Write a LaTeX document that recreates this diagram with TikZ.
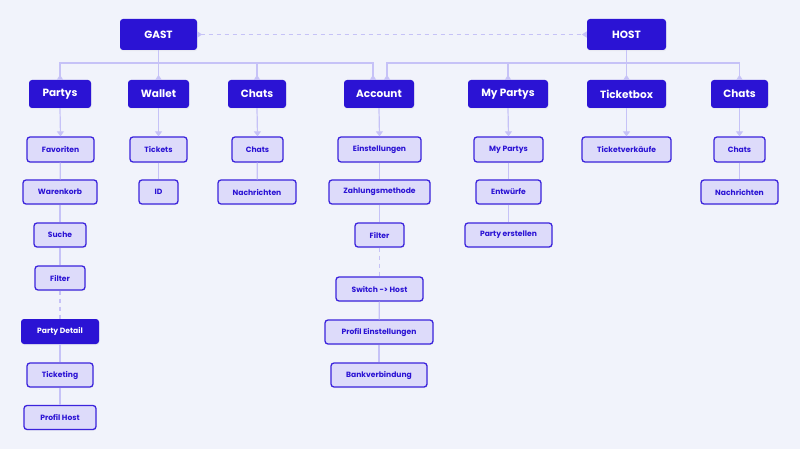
\documentclass[tikz,border=0pt]{standalone}
\usepackage{fontspec}
\setmainfont{Poppins}
\usetikzlibrary{arrows.meta,shadows}
\definecolor{bg}{HTML}{F1F3FB}
\definecolor{dark}{HTML}{2B13D4}
\definecolor{lightfill}{HTML}{DDDBFA}
\definecolor{lightborder}{HTML}{3B23DC}
\definecolor{conn}{HTML}{C6C2F7}
\tikzset{
  boxbase/.style={rectangle, rounded corners=3pt, inner sep=0pt, align=center,
    drop shadow={opacity=0.08, shadow xshift=0.6pt, shadow yshift=-1.2pt}},
  topbox/.style={boxbase, fill=dark, text=white, font=\bfseries\fontsize{10.5}{12}\selectfont, minimum height=31pt},
  catbox/.style={boxbase, fill=dark, text=white, font=\bfseries\fontsize{10.5}{12}\selectfont, minimum height=28pt},
  itembox/.style={boxbase, fill=lightfill, draw=lightborder, line width=1.3pt, text=dark, font=\bfseries\fontsize{7.6}{9}\selectfont, minimum height=24pt},
  itemdark/.style={boxbase, fill=dark, text=white, font=\bfseries\fontsize{7.6}{9}\selectfont, minimum height=25pt},
  conline/.style={draw=conn, line width=1.2pt},
  busline/.style={conline, -{Triangle[reversed, width=6pt, length=5pt]}},
  downline/.style={conline, -{Triangle[width=7pt, length=5pt]}},
  dashline/.style={conline, dash pattern=on 4pt off 4pt},
}
\begin{document}
\begin{tikzpicture}[x=1pt,y=-1pt]
\fill[bg] (0,0) rectangle (800,449);
\useasboundingbox (0,0) rectangle (800,449);

% top level
\node[topbox, minimum width=77pt] (gast) at (158.5,34.5) {GAST};
\node[topbox, minimum width=79pt] (host) at (626.5,34.5) {HOST};

% categories
\node[catbox, minimum width=62pt] (partys) at (60,94) {Partys};
\node[catbox, minimum width=61pt] (wallet) at (158.5,94) {Wallet};
\node[catbox, minimum width=58pt] (chatsg) at (257,94) {Chats};
\node[catbox, minimum width=70pt] (account) at (379,94) {Account};
\node[catbox, minimum width=80pt] (mypartys) at (508,94) {My Partys};
\node[catbox, minimum width=79pt] (ticketbox) at (626.5,94) {Ticketbox};
\node[catbox, minimum width=57pt] (chatsh) at (739.5,94) {Chats};

% row 2
\node[itembox, minimum width=67pt, minimum height=25pt] (favoriten) at (60.5,149.5) {Favoriten};
\node[itembox, minimum width=57pt, minimum height=25pt] (tickets) at (158.5,149.5) {Tickets};
\node[itembox, minimum width=51pt, minimum height=25pt] (chatsg2) at (257.5,149.5) {Chats};
\node[itembox, minimum width=83pt, minimum height=25pt] (einst) at (379.5,149.5) {Einstellungen};
\node[itembox, minimum width=69pt, minimum height=25pt] (mypartys2) at (508.5,149.5) {My Partys};
\node[itembox, minimum width=89pt, minimum height=25pt] (tverk) at (626.5,149.5) {Ticketverkäufe};
\node[itembox, minimum width=51pt, minimum height=25pt] (chatsh2) at (739.5,149.5) {Chats};

% row 3
\node[itembox, minimum width=74pt] (warenkorb) at (60,192) {Warenkorb};
\node[itembox, minimum width=39pt] (id) at (158.5,192) {ID};
\node[itembox, minimum width=78pt] (nachrg) at (257,192) {Nachrichten};
\node[itembox, minimum width=101pt] (zahlung) at (379.5,192) {Zahlungsmethode};
\node[itembox, minimum width=65pt] (entw) at (508.5,192) {Entwürfe};
\node[itembox, minimum width=77pt] (nachrh) at (739.5,192) {Nachrichten};

% row 4
\node[itembox, minimum width=52pt] (suche) at (60,235) {Suche};
\node[itembox, minimum width=49pt] (filtera) at (379.5,235) {Filter};
\node[itembox, minimum width=87pt] (perst) at (508.5,235) {Party erstellen};

% partys column lower
\node[itembox, minimum width=50pt] (filterp) at (60,278) {Filter};
\node[itemdark, minimum width=78pt] (pdetail) at (60,331.5) {Party Detail};
\node[itembox, minimum width=66pt] (ticketing) at (60,375) {Ticketing};
\node[itembox, minimum width=72pt] (profilhost) at (60,417.5) {Profil Host};

% account column lower
\node[itembox, minimum width=87pt] (switch) at (379.5,289) {Switch -> Host};
\node[itembox, minimum width=108pt] (profeinst) at (379,332) {Profil Einstellungen};
\node[itembox, minimum width=96pt] (bank) at (379,375) {Bankverbindung};

% GAST <-> HOST dashed
\draw[dashline, {Triangle[reversed, width=6pt, length=5pt]}-{Triangle[reversed, width=6pt, length=5pt]}] (gast.east) -- (host.west);

% bus coordinates
\coordinate (gbus) at (158.5,63);
\coordinate (hbus) at (626.5,63);
\coordinate (acc-l) at ([xshift=-6pt]account.north);
\coordinate (acc-r) at ([xshift=8pt]account.north);

\draw[conline] (gast.south) -- (gbus);
\draw[busline] (gbus) -| (partys.north);
\draw[busline] (gbus) -- (wallet.north);
\draw[busline] (gbus) -| (chatsg.north);
\draw[busline] (gbus) -| (acc-l);

\draw[conline] (host.south) -- (hbus);
\draw[busline] (hbus) -| (acc-r);
\draw[busline] (hbus) -| (mypartys.north);
\draw[busline] (hbus) -- (ticketbox.north);
\draw[busline] (hbus) -| (chatsh.north);

% category to first item
\draw[downline] (partys.south) -- (favoriten.north);
\draw[downline] (wallet.south) -- (tickets.north);
\draw[downline] (chatsg.south) -- (chatsg2.north);
\draw[downline] (account.south) -- (einst.north);
\draw[downline] (mypartys.south) -- (mypartys2.north);
\draw[downline] (ticketbox.south) -- (tverk.north);
\draw[downline] (chatsh.south) -- (chatsh2.north);

% item chains
\draw[conline] (favoriten) -- (warenkorb);
\draw[conline] (warenkorb) -- (suche);
\draw[conline] (suche) -- (filterp);
\draw[dashline] (filterp) -- (pdetail);
\draw[conline] (pdetail) -- (ticketing);
\draw[conline] (ticketing) -- (profilhost);

\draw[conline] (tickets) -- (id);
\draw[conline] (chatsg2) -- (nachrg);

\draw[conline] (einst) -- (zahlung);
\draw[conline] (zahlung) -- (filtera);
\draw[dashline] (filtera) -- (switch);
\draw[conline] (switch) -- (profeinst);
\draw[conline] (profeinst) -- (bank);

\draw[conline] (mypartys2) -- (entw);
\draw[conline] (entw) -- (perst);

\draw[conline] (chatsh2) -- (nachrh);
\end{tikzpicture}
\end{document}
